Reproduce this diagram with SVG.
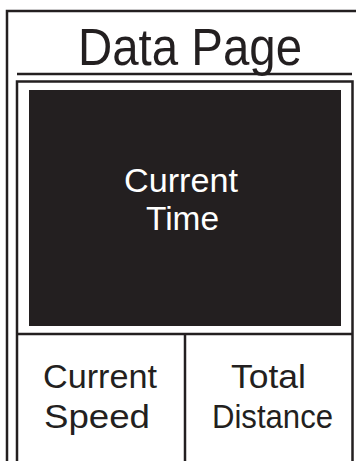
<svg xmlns="http://www.w3.org/2000/svg" width="356" height="461" viewBox="0 0 356 461">
<style>
.ln{fill:none;stroke:#231f20;stroke-width:2.5}
.t{font-family:"Liberation Sans",Arial,sans-serif;fill:#231f20;text-anchor:middle;font-size:34px}
.w{fill:#ffffff}
</style>
<rect width="356" height="461" fill="#ffffff"/>
<g id="frame">
<path class="ln" d="M7,461 V11 H356"/>
<line class="ln" x1="17" y1="74" x2="352" y2="74"/>
<path class="ln" d="M17,461 V81.5 H352.5 V461"/>
</g>
<g id="title"><text class="t" x="190" y="65" style="font-size:51px" textLength="224" lengthAdjust="spacingAndGlyphs">Data Page</text></g>
<g id="current-time">
<rect x="29" y="90" width="312" height="236" fill="#231f20"/>
<text class="t w" x="181" y="192" textLength="114" lengthAdjust="spacingAndGlyphs">Current</text>
<text class="t w" x="182.5" y="230" textLength="73" lengthAdjust="spacingAndGlyphs">Time</text>
</g>
<g id="connectors">
<line class="ln" x1="17" y1="334" x2="352" y2="334"/>
<line class="ln" x1="185" y1="334" x2="185" y2="461"/>
</g>
<g id="current-speed">
<text class="t" x="100" y="388" textLength="114" lengthAdjust="spacingAndGlyphs">Current</text>
<text class="t" x="97" y="428" textLength="106" lengthAdjust="spacingAndGlyphs">Speed</text>
</g>
<g id="total-distance">
<text class="t" x="268.5" y="388" textLength="75" lengthAdjust="spacingAndGlyphs">Total</text>
<text class="t" x="272.5" y="428" textLength="121" lengthAdjust="spacingAndGlyphs">Distance</text>
</g>
</svg>
